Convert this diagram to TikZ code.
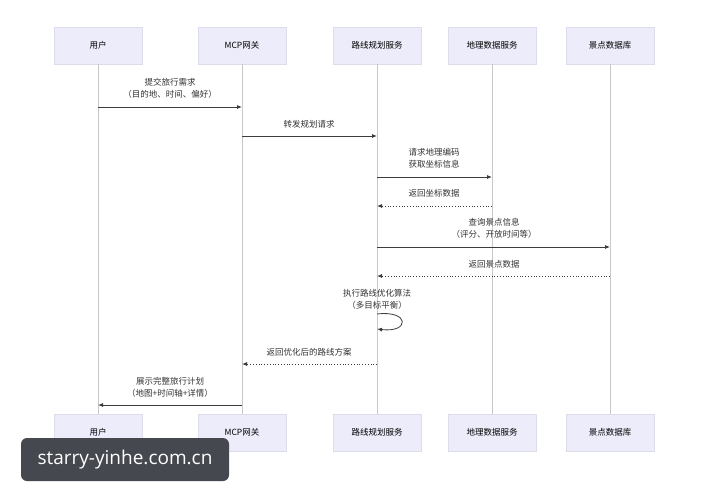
\documentclass[tikz,border=0pt]{standalone}
\usepackage{fontspec}
\setmainfont{Noto Sans CJK SC}
\newfontfamily\markfont{Open Sans}
\usetikzlibrary{arrows.meta,positioning}
\definecolor{actorfill}{RGB}{236,236,250}
\definecolor{actordraw}{RGB}{220,220,235}
\definecolor{lifeline}{RGB}{200,200,200}
\definecolor{msgline}{RGB}{60,60,60}
\definecolor{markbg}{RGB}{70,72,80}
\begin{document}
\begin{tikzpicture}[
    x=1pt, y=-1pt,
    actor/.style={rectangle, draw=actordraw, fill=actorfill, minimum width=88pt, minimum height=37pt, font=\fontsize{8.5}{10}\selectfont},
    life/.style={draw=lifeline, line width=0.6pt},
    msg/.style={-{Latex[length=5pt,width=4pt]}, draw=msgline, line width=0.8pt},
    reply/.style={msg, dotted},
    lbl/.style={font=\fontsize{8.5}{12}\selectfont, align=center, text=black!80}
]
\useasboundingbox (0,0) rectangle (727,500);
\fill[white] (0,0) rectangle (727,500);

% Actors
\foreach \id/\xx/\txt in {user/98/用户, gw/242/MCP网关, route/377/路线规划服务, geo/492/地理数据服务, poi/610/景点数据库}{
  \node[actor] (\id top) at (\xx,45.5) {\txt};
  \node[actor] (\id bot) at (\xx,432.5) {\txt};
  \draw[life] (\id top) -- (\id bot);
}

% Messages
\coordinate (u1) at (98,107);   \coordinate (g1) at (242,107);
\coordinate (g2) at (242,136);  \coordinate (r2) at (377,136);
\coordinate (r3) at (377,177);  \coordinate (d3) at (492,177);
\coordinate (d4) at (492,206);  \coordinate (r4) at (377,206);
\coordinate (r5) at (377,247);  \coordinate (p5) at (610,247);
\coordinate (p6) at (610,276);  \coordinate (r6) at (377,276);
\coordinate (s1) at (377,314);  \coordinate (s2) at (377,329);
\coordinate (r7) at (377,364);  \coordinate (g7) at (242,364);
\coordinate (g8) at (242,405);  \coordinate (u8) at (98,405);

\draw[msg] (u1) -- (g1);
\draw[msg] (g2) -- (r2);
\draw[msg] (r3) -- (d3);
\draw[reply] (d4) -- (r4);
\draw[msg] (r5) -- (p5);
\draw[reply] (p6) -- (r6);
\draw[msg] (s1) .. controls (410,310) and (410,333) .. (s2);
\draw[reply] (r7) -- (g7);
\draw[msg] (g8) -- (u8);

% Labels
\node[lbl] at (170,88) {提交旅行需求\\（目的地、时间、偏好）};
\node[lbl] at (309,124) {转发规划请求};
\node[lbl] at (434,158) {请求地理编码\\获取坐标信息};
\node[lbl] at (434,193) {返回坐标数据};
\node[lbl] at (494,228) {查询景点信息\\（评分、开放时间等）};
\node[lbl] at (494,264) {返回景点数据};
\node[lbl] at (377,299) {执行路线优化算法\\（多目标平衡）};
\node[lbl] at (309,352) {返回优化后的路线方案};
\node[lbl] at (170,387) {展示完整旅行计划\\（地图+时间轴+详情）};

% Watermark
\node[fill=markbg, rounded corners=6pt, minimum width=208pt, minimum height=43pt, text=white, font=\markfont\fontsize{19}{22}\selectfont] (mark) at (125,459.5) {starry-yinhe.com.cn};
\end{tikzpicture}
\end{document}
